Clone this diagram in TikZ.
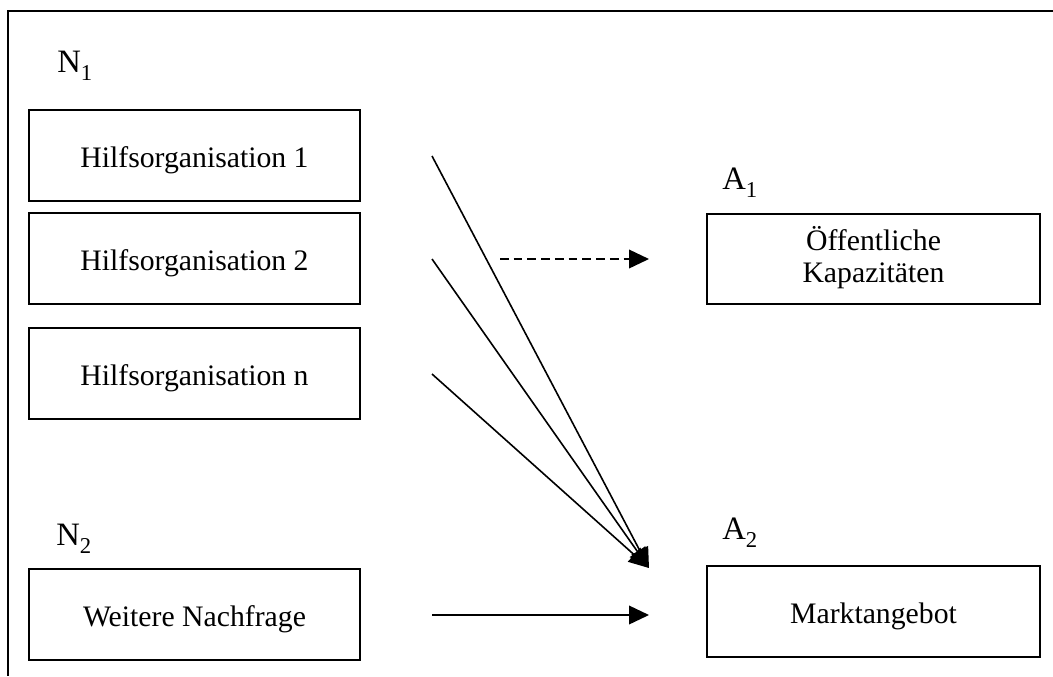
\documentclass[tikz,border=0pt]{standalone}
\usepackage{fontspec}
\setmainfont{Liberation Serif}
\usetikzlibrary{arrows.meta}
\newcommand\boxfont{\fontsize{22.3pt}{24pt}\selectfont}
\newcommand\labfont{\fontsize{24.5pt}{28pt}\selectfont}
\newcommand\lowsub[1]{\raisebox{-6pt}{\fontsize{17pt}{17pt}\selectfont #1}}
\newcommand\twolines[2]{\raisebox{-3.5pt}{\begin{tabular}{@{}c@{}}#1\\#2\end{tabular}}}
\begin{document}
\begin{tikzpicture}[x=0.75pt,y=-0.75pt,
  box/.style={draw, line width=1.3pt, inner sep=0pt, font=\boxfont,
    minimum width=248.5pt, minimum height=68pt},
  oneline/.style={text height=22.5pt, text depth=4pt},
  setlabel/.style={anchor=base west, inner sep=0pt, font=\labfont},
  link/.style={line width=1.2pt, -{Triangle[length=15pt, width=14pt]}},
  maybe/.style={link, dash pattern=on 6.5pt off 3.8pt}]
\useasboundingbox (0,0) rectangle (1053,676);

% open frame: top and left edge
\draw[line width=1.5pt] (1053,11) -- (8,11) -- (8,676);

% demand side
\node[setlabel] (n1) at (57,72) {N\lowsub{1}};
\node[box, oneline] (h1) at (194.5,155.5) {Hilfsorganisation 1};
\node[box, oneline] (h2) at (194.5,258.5) {Hilfsorganisation 2};
\node[box, oneline] (hn) at (194.5,373.5) {Hilfsorganisation n};
\node[setlabel] (n2) at (56,545) {N\lowsub{2}};
\node[box, oneline] (wn) at (194.5,614.5) {Weitere Nachfrage};

% supply side
\node[setlabel] (a1) at (722,189) {A\lowsub{1}};
\node[box, minimum width=249.75pt, minimum height=67.5pt] (oe) at (873.5,259) {\twolines{Öffentliche}{Kapazitäten}};
\node[setlabel] (a2) at (722,539) {A\lowsub{2}};
\node[box, oneline, minimum width=249.75pt] (ma) at (873.5,611.5) {Marktangebot};

% free ends of the connectors
\coordinate (s1) at (432,156);
\coordinate (s2) at (432,259);
\coordinate (s3) at (432,374);
\coordinate (s4) at (432,615);
\coordinate (d0) at (500,259);
\coordinate (d1) at (649,259);
\coordinate (m0) at (649,568);
\coordinate (m1) at (649,615);

\draw[link] (s1) -- (m0);
\draw[link] (s2) -- (m0);
\draw[link] (s3) -- (m0);
\draw[maybe] (d0) -- (d1);
\draw[link] (s4) -- (m1);
\end{tikzpicture}
\end{document}
